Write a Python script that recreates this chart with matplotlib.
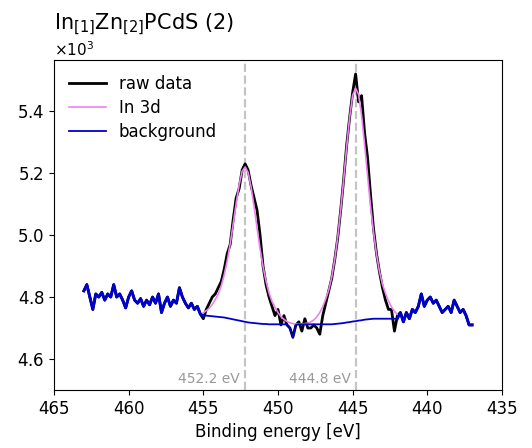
import numpy as np
import matplotlib; matplotlib.use("Agg")
import matplotlib.pyplot as plt

# binding energy grid, 0.2 eV steps, 463 -> 437 eV
energy = np.linspace(463.0, 437.0, 131)

# raw counts (x10^3)
raw_left = [4.82,4.84,4.80,4.76,4.81,4.80,4.815,4.79,4.81,4.80,
            4.84,4.80,4.81,4.79,4.765,4.80,4.82,4.79,4.78,4.795,
            4.77,4.79,4.775,4.80,4.78,4.81,4.75,4.78,4.80,4.77,
            4.79,4.78,4.83,4.80,4.78,4.765,4.78,4.76,4.77,4.745]
raw_fit = [4.73,4.76,4.78,4.80,4.81,4.83,4.85,4.89,4.94,4.97,
           5.05,5.12,5.15,5.21,5.23,5.21,5.16,5.12,5.08,5.00,
           4.90,4.84,4.80,4.77,4.74,4.76,4.71,4.74,4.71,4.70,
           4.67,4.71,4.72,4.69,4.73,4.70,4.70,4.71,4.70,4.68,
           4.74,4.78,4.82,4.86,4.92,4.99,5.08,5.18,5.29,5.38,
           5.46,5.52,5.43,5.45,5.33,5.25,5.13,5.02,4.94,4.88,
           4.83,4.79,4.76,4.76,4.69,4.74]
raw_right = [4.75,4.72,4.75,4.73,4.76,4.75,4.77,4.81,4.77,4.79,
             4.80,4.78,4.79,4.77,4.75,4.76,4.77,4.75,4.79,4.77,
             4.75,4.76,4.74,4.71,4.71]

# In 3d envelope (455 -> 442 eV)
in3d = [4.749,4.756,4.764,4.776,4.792,4.810,4.836,4.872,4.917,4.972,
        5.036,5.102,5.162,5.206,5.220,5.202,5.155,5.092,5.023,4.956,
        4.898,4.851,4.813,4.786,4.767,4.750,4.737,4.728,4.721,4.717,
        4.714,4.713,4.713,4.713,4.714,4.716,4.720,4.726,4.736,4.750,
        4.769,4.794,4.823,4.864,4.921,4.993,5.080,5.180,5.285,5.380,
        5.451,5.474,5.454,5.386,5.294,5.192,5.094,5.009,4.938,4.882,
        4.841,4.812,4.787,4.768,4.754,4.744]

# background inside the fit window (455 -> 442 eV)
bg_fit = [4.740,4.740,4.739,4.738,4.737,4.736,4.735,4.734,4.732,4.730,
          4.728,4.726,4.724,4.722,4.720,4.718,4.717,4.716,4.715,4.714,
          4.713,4.713,4.712,4.712,4.712,4.712,4.712,4.712,4.712,4.70,
          4.67,4.71,4.712,4.712,4.712,4.712,4.712,4.712,4.712,4.712,
          4.712,4.712,4.712,4.712,4.713,4.714,4.715,4.716,4.718,4.719,
          4.721,4.722,4.724,4.725,4.727,4.728,4.729,4.730,4.730,4.730,
          4.730,4.730,4.730,4.730,4.730,4.730]

peaks = [452.2, 444.8]
peak_labels = ["452.2 eV", "444.8 eV"]

raw = np.array(raw_left + raw_fit + raw_right) * 1e3
bg = np.array(raw_left + bg_fit + raw_right) * 1e3
nl = len(raw_left); nf = len(raw_fit)
efit = energy[nl:nl+nf]

fig = plt.figure(figsize=(5.32, 4.48), dpi=100)
ax = fig.add_axes([0.1015, 0.1295, 0.842, 0.7365])

ax.plot(energy, raw, color="black", lw=2.0, label="raw data")
ax.plot(efit, np.array(in3d)*1e3, color="violet", lw=1.2, label="In 3d")
ax.plot(energy, bg, color="mediumblue", lw=1.3, label="background")
# outside the fit window the background is the data itself
ax.plot(energy[:nl+1], bg[:nl+1], color="mediumblue", lw=2.0)
ax.plot(energy[nl+nf-1:], bg[nl+nf-1:], color="mediumblue", lw=2.0)

for p, lab in zip(peaks, peak_labels):
    ax.axvline(p, color="#c4c4c4", ls="--", lw=1.6, zorder=0)
    ax.text(p + 0.35, 4535, lab, ha="right", va="center", color="#999999", fontsize=10)

ax.set_xlim(465, 435)
ax.set_ylim(4500, 5565)
ax.set_xticks([465, 460, 455, 450, 445, 440, 435])
ax.set_yticks([4600, 4800, 5000, 5200, 5400])
ax.ticklabel_format(axis="y", style="sci", scilimits=(0, 0), useMathText=True)
ax.tick_params(labelsize=12)
ax.yaxis.get_offset_text().set_fontsize(11)
ax.set_xlabel("Binding energy [eV]", fontsize=12)
ax.set_title("In$_{[1]}$Zn$_{[2]}$PCdS (2)", loc="left", fontsize=15, pad=8)
ax.legend(loc="upper left", frameon=False, fontsize=12, handlelength=2.2,
          labelspacing=0.35)

plt.savefig("out.png", dpi=100)
